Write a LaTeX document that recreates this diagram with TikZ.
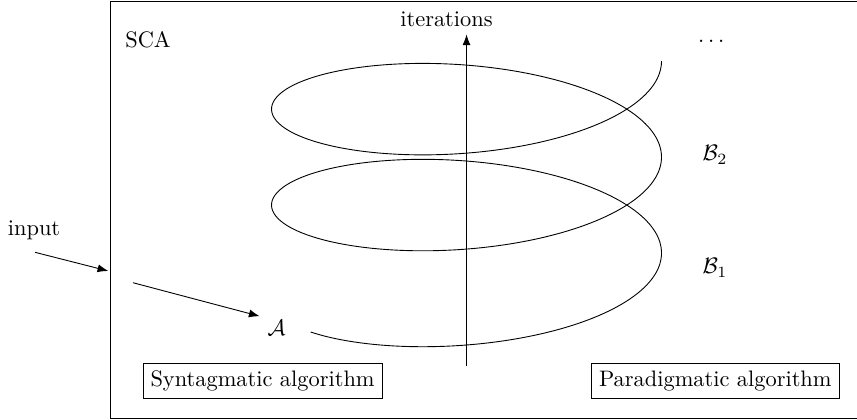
\documentclass[tikz,border=0pt]{standalone}
\usepackage{amsmath, amssymb}
\usetikzlibrary{positioning,arrows.meta}

\begin{document}
\begin{tikzpicture}[
    algbox/.style={draw, inner sep=3.33pt},
    arr/.style={-Latex},
    helix/.style={smooth, samples=300, variable=\t}
]
\useasboundingbox (-7.32,-2.605) rectangle (6.127,3.97);
\draw (6.2,3.946) -- (-5.586,3.946) -- (-5.586,-2.589) -- (6.2,-2.589);

\node (sca)   at (-4.997,3.35)  {SCA};
\node (iter)  at (-0.314,3.671) {iterations};
\node (dots)  at (3.87,3.315)   {$\dots$};
\node (b2)    at (3.9,1.54)     {$\mathcal{B}_2$};
\node (b1)    at (3.9,-0.235)   {$\mathcal{B}_1$};
\node (alpha) at (-2.981,-1.177) {$\mathcal{A}$};
\node (input) at (-6.786,0.361) {input};
\node[algbox] (syn)  at (-3.2,-2.008) {Syntagmatic algorithm};
\node[algbox] (para) at (3.904,-2.008) {Paradigmatic algorithm};

\coordinate (in0) at (-6.77,0.011);
\coordinate (in1) at (-5.62,-0.282);
\coordinate (sa0) at (-5.233,-0.466);
\coordinate (ax0) at (0,-1.773);

\draw[arr] (in0) -- (in1);
\draw[arr] (sa0) -- (alpha.145);
\draw[arr] (ax0) -- (ax0 |- iter.south);

\draw plot[helix, domain=-143:720] ({3.06*cos(\t)}, {0.004184*\t + 1.067*sin(\t)});
\end{tikzpicture}
\end{document}
